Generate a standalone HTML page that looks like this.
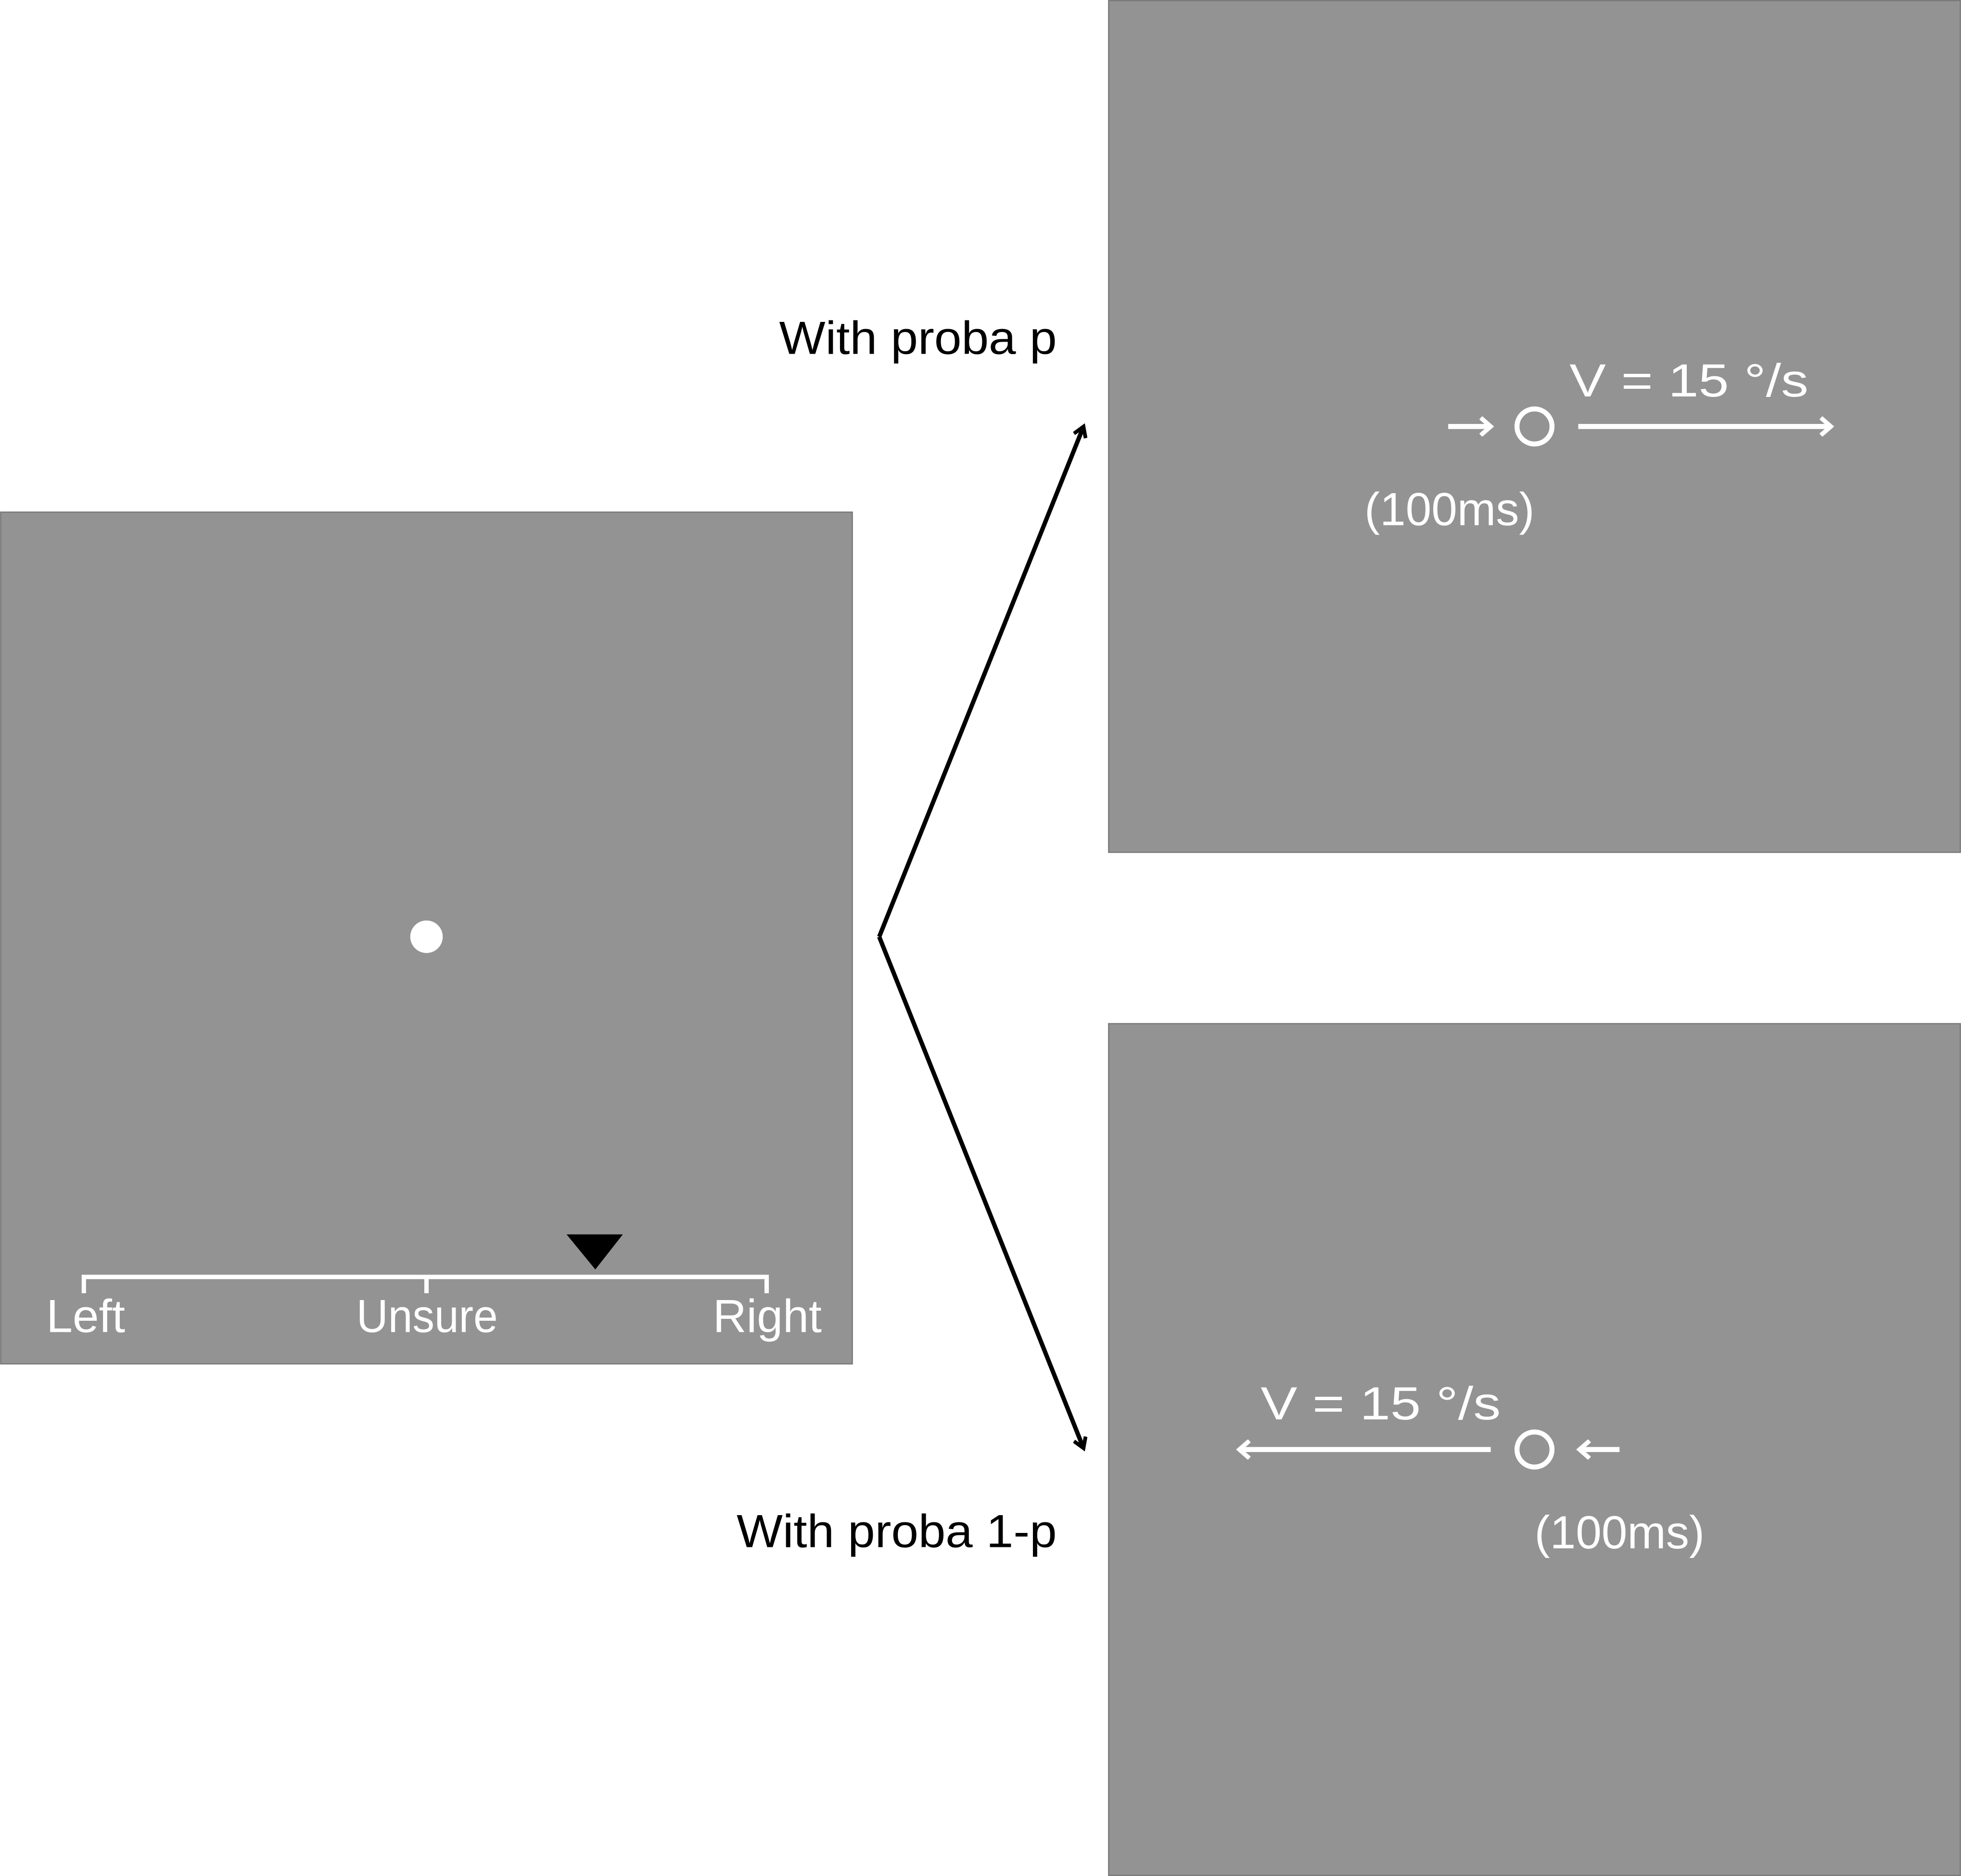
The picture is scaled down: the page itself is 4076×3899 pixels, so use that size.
<!DOCTYPE html>
<html><head><meta charset="utf-8"><style>
html,body{margin:0;padding:0;background:#fff;}
svg{display:block;}
text{font-family:"Liberation Sans",sans-serif;}
</style></head><body>
<svg width="4076" height="3899" viewBox="0 0 1568 1500" xmlns="http://www.w3.org/2000/svg">
<defs>
<marker id="ab" markerWidth="12" markerHeight="12" refX="8" refY="6" orient="auto" markerUnits="userSpaceOnUse"><path d="M1,1 L9,6 L1,11" fill="none" stroke="#000" stroke-width="3"/></marker>
<marker id="aw" markerWidth="12" markerHeight="16" refX="9" refY="8" orient="auto" markerUnits="userSpaceOnUse"><path d="M1,1 L9,8 L1,15" fill="none" stroke="#fff" stroke-width="3.5"/></marker>
</defs>
<g>
<rect x="0.5" y="409.5" width="681" height="681" fill="#939393" stroke="#7a7a7a" stroke-width="1"/>
<circle cx="341" cy="749" r="13" fill="#fff"/>
<path d="M67,1034 V1021 H613 V1034 M341,1021 V1034" fill="none" stroke="#fff" stroke-width="3.5"/>
<polygon points="453,987 498,987 476,1015" fill="#000"/>
<text x="37" y="1065" font-size="37" fill="#fff" textLength="63" lengthAdjust="spacingAndGlyphs">Left</text>
<text x="285" y="1065" font-size="37" fill="#fff" textLength="113" lengthAdjust="spacingAndGlyphs">Unsure</text>
<text x="570" y="1065" font-size="37" fill="#fff" textLength="87" lengthAdjust="spacingAndGlyphs">Right</text>
</g>
<line x1="703" y1="749" x2="866" y2="342" stroke="#000" stroke-width="3.5" marker-end="url(#ab)"/>
<line x1="703" y1="749" x2="866" y2="1157" stroke="#000" stroke-width="3.5" marker-end="url(#ab)"/>
<text x="623" y="283" font-size="37" fill="#000" textLength="222" lengthAdjust="spacingAndGlyphs">With proba p</text>
<text x="589" y="1237" font-size="37" fill="#000" textLength="256" lengthAdjust="spacingAndGlyphs">With proba 1-p</text>
<g>
<rect x="886.5" y="0.5" width="681" height="681" fill="#939393" stroke="#7a7a7a" stroke-width="1"/>
<line x1="1158" y1="341" x2="1192" y2="341" stroke="#fff" stroke-width="4" marker-end="url(#aw)"/>
<circle cx="1227" cy="341" r="14" fill="none" stroke="#fff" stroke-width="4"/>
<line x1="1262" y1="341" x2="1464" y2="341" stroke="#fff" stroke-width="4" marker-end="url(#aw)"/>
<text x="1255" y="317" font-size="37" fill="#fff" textLength="191" lengthAdjust="spacingAndGlyphs">V = 15 °/s</text>
<text x="1091" y="420" font-size="37" fill="#fff" textLength="136" lengthAdjust="spacingAndGlyphs">(100ms)</text>
</g>
<g>
<rect x="886.5" y="818.5" width="681" height="681" fill="#939393" stroke="#7a7a7a" stroke-width="1"/>
<line x1="1192" y1="1159" x2="991" y2="1159" stroke="#fff" stroke-width="4" marker-end="url(#aw)"/>
<circle cx="1227" cy="1159" r="14" fill="none" stroke="#fff" stroke-width="4"/>
<line x1="1295" y1="1159" x2="1263" y2="1159" stroke="#fff" stroke-width="4" marker-end="url(#aw)"/>
<text x="1008" y="1135" font-size="37" fill="#fff" textLength="192" lengthAdjust="spacingAndGlyphs">V = 15 °/s</text>
<text x="1227" y="1238" font-size="37" fill="#fff" textLength="136" lengthAdjust="spacingAndGlyphs">(100ms)</text>
</g>
</svg>
</body></html>
